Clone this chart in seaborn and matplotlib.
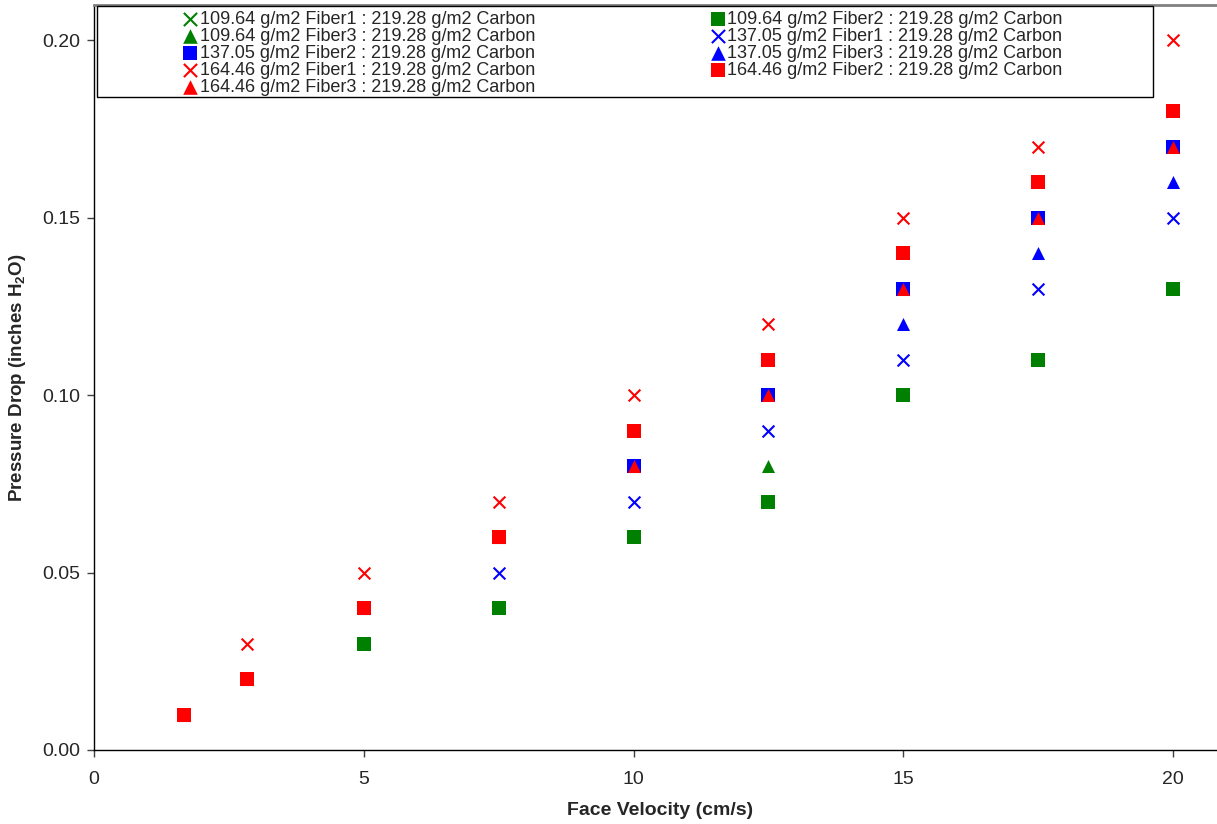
import matplotlib
matplotlib.use("Agg")
import matplotlib.pyplot as plt
import pandas as pd
import seaborn as sns
from matplotlib.patches import Rectangle

# face velocity (cm/s)
velocity = [1.67, 2.83, 5, 7.5, 10, 12.5, 15, 17.5, 20]

# pressure drop (inches H2O) per fiber loading / fiber type
f109_fiber1 = [0.01, 0.02, 0.03, 0.04, 0.06, 0.07, 0.10, 0.11, 0.13]
f109_fiber2 = [0.01, 0.02, 0.03, 0.04, 0.06, 0.07, 0.10, 0.11, 0.13]
f109_fiber3 = [0.01, 0.02, 0.04, 0.06, 0.08, 0.08, 0.13, 0.15, 0.17]
f137_fiber1 = [0.01, 0.02, 0.04, 0.05, 0.07, 0.09, 0.11, 0.13, 0.15]
f137_fiber2 = [0.01, 0.02, 0.04, 0.06, 0.08, 0.10, 0.13, 0.15, 0.17]
f137_fiber3 = [0.01, 0.02, 0.04, 0.06, 0.08, 0.10, 0.12, 0.14, 0.16]
f164_fiber1 = [0.01, 0.03, 0.05, 0.07, 0.10, 0.12, 0.15, 0.17, 0.20]
f164_fiber2 = [0.01, 0.02, 0.04, 0.06, 0.09, 0.11, 0.14, 0.16, 0.18]
f164_fiber3 = [0.01, 0.02, 0.04, 0.06, 0.08, 0.10, 0.13, 0.15, 0.17]

labels = [
    "109.64 g/m2 Fiber1 : 219.28 g/m2 Carbon",
    "109.64 g/m2 Fiber2 : 219.28 g/m2 Carbon",
    "109.64 g/m2 Fiber3 : 219.28 g/m2 Carbon",
    "137.05 g/m2 Fiber1 : 219.28 g/m2 Carbon",
    "137.05 g/m2 Fiber2 : 219.28 g/m2 Carbon",
    "137.05 g/m2 Fiber3 : 219.28 g/m2 Carbon",
    "164.46 g/m2 Fiber1 : 219.28 g/m2 Carbon",
    "164.46 g/m2 Fiber2 : 219.28 g/m2 Carbon",
    "164.46 g/m2 Fiber3 : 219.28 g/m2 Carbon",
]
series = [f109_fiber1, f109_fiber2, f109_fiber3,
          f137_fiber1, f137_fiber2, f137_fiber3,
          f164_fiber1, f164_fiber2, f164_fiber3]
colors = ["#008000"] * 3 + ["#0000FF"] * 3 + ["#FF0000"] * 3
markers = ["x", "s", "^"] * 3

sns.set_style("white")
plt.rcParams["font.family"] = ["Liberation Sans", "DejaVu Sans"]
plt.rcParams["mathtext.fontset"] = "custom"
plt.rcParams["mathtext.rm"] = "Liberation Sans:bold"
plt.rcParams["mathtext.it"] = "Liberation Sans:bold"
plt.rcParams["mathtext.bf"] = "Liberation Sans:bold"

W, H = 1217, 824
fig = plt.figure(figsize=(W / 100, H / 100), dpi=100)
x0, x1 = 94, 94 + 21 * 53.95
y_bot, y_top = 750, 5
ax = fig.add_axes([x0 / W, 1 - y_bot / H, (x1 - x0) / W, (y_bot - y_top) / H])

for vals, lab, col, mk in zip(series, labels, colors, markers):
    df = pd.DataFrame({"velocity": velocity, "dp": vals})
    if mk == "x":
        sns.scatterplot(data=df, x="velocity", y="dp", ax=ax, marker="x",
                        color=col, s=72, linewidth=1.5, label=lab)
    else:
        sns.scatterplot(data=df, x="velocity", y="dp", ax=ax, marker=mk,
                        color=col, s=88, linewidth=0, label=lab)

ax.set_xlim(0, 21)
ax.set_ylim(0, 0.21)
ax.set_xticks([0, 5, 10, 15, 20])
ax.set_yticks([0, 0.05, 0.10, 0.15, 0.20])
ax.yaxis.set_major_formatter(matplotlib.ticker.FormatStrFormatter("%.2f"))
ax.tick_params(axis="both", direction="out", length=5, width=1,
               labelsize=14, color="#404040", bottom=True, left=True)
ax.tick_params(axis="x", pad=10)
ax.tick_params(axis="y", pad=5)
for side in ["left", "bottom"]:
    ax.spines[side].set_color("black")
    ax.spines[side].set_linewidth(1)
ax.spines["top"].set_color("#808080")
ax.spines["top"].set_linewidth(2)
ax.spines["right"].set_visible(False)

ax.set_xlabel("Face Velocity (cm/s)", fontsize=14, fontweight="bold", labelpad=10)
ax.set_ylabel(r"Pressure Drop (inches H$_2$O)", fontsize=13.5,
              fontweight="bold", labelpad=10)

# legend: Excel fills rows first, matplotlib fills columns first
handles, hlabels = ax.get_legend_handles_labels()
ax.get_legend().remove()
order = [0, 2, 4, 6, 8, 1, 3, 5, 7]
box = Rectangle((97 / W, 1 - 97 / H), (1153 - 97) / W, 91 / H,
                transform=fig.transFigure, facecolor="white",
                edgecolor="black", linewidth=1, zorder=5)
fig.patches.append(box)
leg = fig.legend([handles[i] for i in order], [hlabels[i] for i in order],
                 ncol=2, loc="upper left",
                 bbox_to_anchor=(185 / W, 1 - 11 / H),
                 bbox_transform=fig.transFigure,
                 frameon=False, fontsize=13, labelspacing=0.0,
                 markerscale=1.12,
                 handlelength=0.6, handletextpad=0.23, columnspacing=9.8,
                 borderpad=0, borderaxespad=0)
leg.set_zorder(6)

plt.savefig("out.png", dpi=100)
